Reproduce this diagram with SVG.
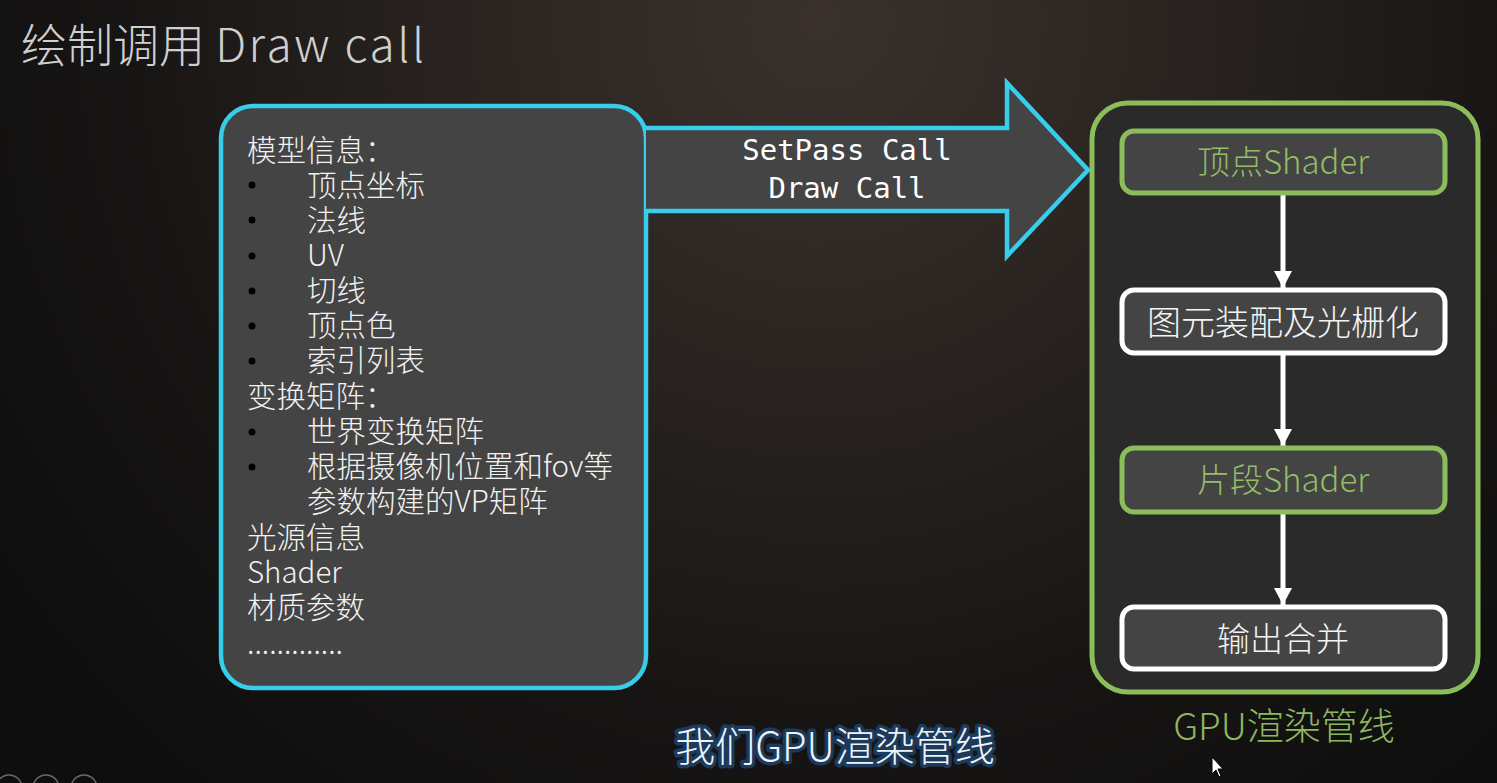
<svg xmlns="http://www.w3.org/2000/svg" width="1497" height="783" viewBox="0 0 1497 783">
<defs>
<radialGradient id="bg" cx="820" cy="20" r="1000" gradientUnits="userSpaceOnUse">
<stop offset="0" stop-color="#3a312c"/>
<stop offset="0.35" stop-color="#2a2421"/>
<stop offset="0.7" stop-color="#171514"/>
<stop offset="1" stop-color="#0e0e0e"/>
</radialGradient>
<marker id="ah" markerUnits="userSpaceOnUse" markerWidth="18" markerHeight="18" refX="17" refY="9" orient="auto">
<path d="M0,0 L17,9 L0,18 z" fill="#ffffff"/>
</marker>
<style>
.cjk{font-family:"Noto Sans CJK SC","Noto Sans",sans-serif;font-weight:300}
.list{font-size:29.5px;fill:#f2f2f2}
.node{fill:#444444;stroke-width:5}
.gn{stroke:#8cbd5b}
.wn{stroke:#ffffff}
.gt{fill:#94bd66}
.wt{fill:#f4f4f4}
.conn{stroke:#ffffff;stroke-width:5;fill:none;marker-end:url(#ah)}
.mono{font-family:"DejaVu Sans Mono","Liberation Mono",monospace;font-size:29px;fill:#ffffff}
</style>
</defs>
<rect x="0" y="0" width="1497" height="783" fill="url(#bg)"/>

<text class="cjk" x="21" y="62" font-size="46" fill="#cfcfcf">绘制调用 <tspan letter-spacing="2.5">Draw call</tspan></text>

<g id="model-info">
<rect x="221" y="106" width="425" height="582" rx="32" ry="32" fill="#444444" stroke="#38cdea" stroke-width="4.5"/>
<g class="cjk list">
<text x="247" y="161">模型信息：</text>
<text x="307" y="196">顶点坐标</text>
<text x="307" y="231">法线</text>
<text x="307" y="266">UV</text>
<text x="307" y="301">切线</text>
<text x="307" y="336">顶点色</text>
<text x="307" y="371">索引列表</text>
<text x="247" y="407">变换矩阵：</text>
<text x="307" y="442">世界变换矩阵</text>
<text x="307" y="477">根据摄像机位置和fov等</text>
<text x="307" y="512">参数构建的VP矩阵</text>
<text x="247" y="548">光源信息</text>
<text x="247" y="583">Shader</text>
<text x="247" y="618">材质参数</text>
<text x="247" y="654">.............</text>
</g>
<g fill="#000000">
<circle cx="252" cy="185" r="3.5"/>
<circle cx="252" cy="220" r="3.5"/>
<circle cx="252" cy="256" r="3.5"/>
<circle cx="252" cy="291" r="3.5"/>
<circle cx="252" cy="326" r="3.5"/>
<circle cx="252" cy="361" r="3.5"/>
<circle cx="252" cy="432" r="3.5"/>
<circle cx="252" cy="467" r="3.5"/>
</g>
</g>

<g id="gpu-pipeline">
<rect x="1092" y="103" width="386" height="589" rx="36" ry="36" fill="#2a2a2a" stroke="#8cbd5b" stroke-width="5"/>
<text class="cjk" x="1284" y="740" font-size="37" fill="#8db761" text-anchor="middle">GPU渲染管线</text>
</g>

<g id="connectors">
<g id="draw-call-arrow">
<path d="M646,128 L1007,128 L1007,83 L1088,170 L1007,256 L1007,211 L646,211" fill="#444444" stroke="#38cdea" stroke-width="4.5" stroke-linejoin="miter"/>
<text class="mono" x="847" y="160" text-anchor="middle">SetPass Call</text>
<text class="mono" x="847" y="198" text-anchor="middle">Draw Call</text>
</g>
<line class="conn" x1="1283" y1="195" x2="1283" y2="288"/>
<line class="conn" x1="1283" y1="355" x2="1283" y2="446"/>
<line class="conn" x1="1283" y1="514" x2="1283" y2="605"/>
</g>

<g id="vertex-shader">
<rect class="node gn" x="1122" y="131" width="323" height="62" rx="12" ry="12"/>
<text class="cjk gt" x="1283" y="174" font-size="33" text-anchor="middle">顶点Shader</text>
</g>

<g id="rasterize">
<rect class="node wn" x="1122" y="290" width="323" height="63" rx="12" ry="12"/>
<text class="cjk wt" x="1283" y="335" font-size="34" text-anchor="middle">图元装配及光栅化</text>
</g>

<g id="fragment-shader">
<rect class="node gn" x="1122" y="448" width="323" height="64" rx="12" ry="12"/>
<text class="cjk gt" x="1283" y="492" font-size="33" text-anchor="middle">片段Shader</text>
</g>

<g id="output-merge">
<rect class="node wn" x="1122" y="607" width="323" height="62" rx="12" ry="12"/>
<text class="cjk wt" x="1283" y="651" font-size="33" text-anchor="middle">输出合并</text>
</g>

<text class="cjk" x="835" y="761" font-size="40" text-anchor="middle" fill="#eef3f8" stroke="#1b3a5c" stroke-width="7" stroke-linejoin="round" paint-order="stroke" font-weight="400">我们GPU渲染管线</text>

<g fill="none" stroke="#6a6a6a" stroke-width="1.5">
<circle cx="9" cy="788" r="13"/>
<circle cx="46" cy="788" r="13"/>
<circle cx="84" cy="788" r="13"/>
</g>
<path d="M1212,757 L1212,774 L1216,770 L1219,777 L1221,776 L1218,769 L1223,769 z" fill="#ffffff" stroke="#000000" stroke-width="1"/>
</svg>
